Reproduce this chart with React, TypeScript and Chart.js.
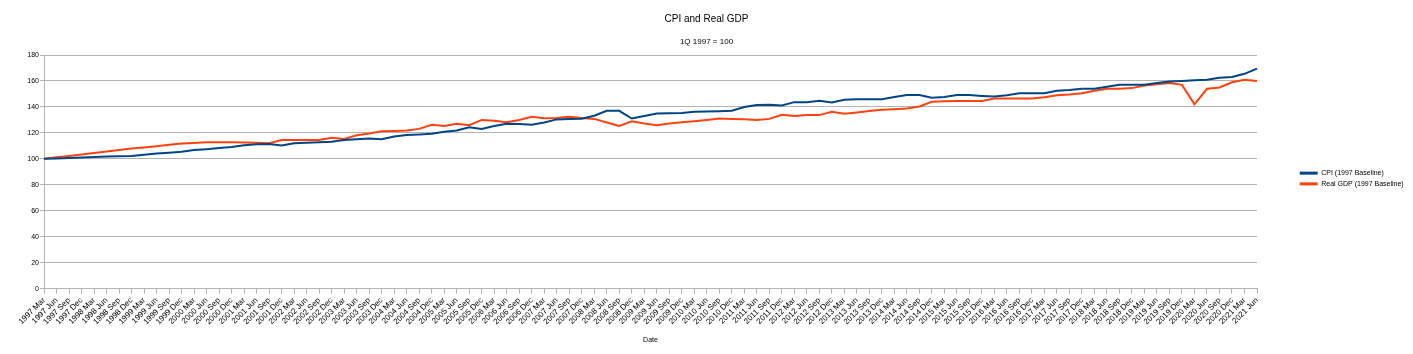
import React, { useEffect, useRef } from 'react';
import { Chart, registerables } from 'chart.js';

Chart.register(...registerables);

const quarterMonths = ['Mar', 'Jun', 'Sep', 'Dec'];
const years = [1997, 1998, 1999, 2000, 2001, 2002, 2003, 2004, 2005, 2006, 2007, 2008, 2009, 2010, 2011, 2012, 2013, 2014, 2015, 2016, 2017, 2018, 2019, 2020, 2021];
const dates: string[] = [];
years.forEach((y) => quarterMonths.forEach((m) => dates.push(`${y} ${m}`)));
const categories = dates.slice(0, 98);

const cpi = [
  100, 100.3, 100.6, 101.0, 101.5, 101.9, 102.1, 102.3, 103.2, 104.2,
  104.8, 105.4, 106.8, 107.5, 108.3, 109.2, 110.5, 111.3, 111.4, 110.3,
  112.1, 112.5, 112.8, 113.1, 114.6, 115.2, 115.7, 115.2, 117.2, 118.3,
  118.8, 119.4, 120.8, 121.9, 124.4, 123.1, 125.3, 127.0, 126.8, 126.2,
  128.0, 130.4, 130.7, 130.9, 133.2, 137.0, 137.0, 131.1, 133.0, 134.9,
  135.1, 135.4, 136.2, 136.4, 136.6, 137.0, 140.0, 141.4, 141.6, 141.1,
  143.7, 143.7, 144.7, 143.4, 145.5, 146.0, 146.0, 146.0, 147.6, 149.1,
  149.1, 147.1, 147.6, 149.1, 149.1, 148.5, 148.0, 149.0, 150.5, 150.5,
  150.5, 152.5, 153.0, 154.0, 154.0, 155.5, 157.0, 157.0, 157.0, 158.5,
  159.5, 160.0, 160.5, 161.0, 162.5, 163.0, 165.5, 169.5,
];

const realGdp = [
  100, 101.2, 102.2, 103.3, 104.5, 105.6, 106.8, 108.0, 108.8, 109.8,
  110.8, 111.8, 112.3, 112.8, 112.8, 112.8, 112.7, 112.5, 112.1, 114.6,
  114.6, 114.6, 114.6, 116.2, 115.4, 118.2, 119.5, 121.3, 121.5, 121.8,
  123.1, 126.2, 125.4, 127.0, 125.9, 130.0, 129.3, 128.2, 130.0, 132.5,
  131.3, 131.5, 132.5, 131.5, 130.8, 128.0, 125.4, 129.0, 127.2, 125.9,
  127.3, 128.2, 129.0, 130.0, 131.1, 130.8, 130.6, 130.0, 130.8, 133.9,
  133.1, 133.7, 133.7, 136.2, 134.7, 135.7, 136.8, 137.8, 138.3, 138.8,
  140.4, 144.0, 144.3, 144.5, 144.5, 144.5, 146.5, 146.5, 146.5, 146.5,
  147.5, 149.0, 149.5, 150.5, 152.5, 154.0, 154.0, 154.5, 156.5, 157.5,
  158.5, 157.0, 142.0, 154.0, 155.0, 159.0, 161.0, 160.0,
];

const yTicks = [0, 20, 40, 60, 80, 100, 120, 140, 160, 180];

const FONT = "'Liberation Sans', Arial, sans-serif";
const GRID = '#b3b3b3';

export default function App() {
  const canvasRef = useRef<HTMLCanvasElement | null>(null);

  useEffect(() => {
    document.body.style.margin = '0';
    const canvas = canvasRef.current;
    if (!canvas) return;
    const chart = new Chart(canvas, {
      type: 'line',
      data: {
        labels: categories,
        datasets: [
          {
            label: 'CPI (1997 Baseline)',
            data: cpi,
            borderColor: '#004586',
            backgroundColor: '#004586',
            borderWidth: 2,
            pointRadius: 0,
            tension: 0,
          },
          {
            label: 'Real GDP (1997 Baseline)',
            data: realGdp,
            borderColor: '#ff420e',
            backgroundColor: '#ff420e',
            borderWidth: 2,
            pointRadius: 0,
            tension: 0,
          },
        ],
      },
      options: {
        animation: false,
        responsive: false,
        maintainAspectRatio: false,
        layout: { padding: 0 },
        plugins: {
          title: {
            display: true,
            text: 'CPI and Real GDP',
            color: '#000',
            font: { family: FONT, size: 10, weight: 'normal' },
            padding: { top: 13, bottom: 0 },
          },
          subtitle: {
            display: true,
            text: '1Q 1997 = 100',
            color: '#000',
            font: { family: FONT, size: 8, weight: 'normal' },
            padding: { top: 12.2, bottom: 8.2 },
          },
          legend: {
            display: true,
            position: 'right',
            maxWidth: 117,
            title: { display: true, text: '', font: { family: FONT, size: 2 }, padding: 0.3 },
            labels: {
              color: '#000',
              font: { family: FONT, size: 7 },
              boxWidth: 18,
              boxHeight: 3,
              padding: 3.7,
              generateLabels: (c: any) =>
                Chart.defaults.plugins.legend.labels.generateLabels(c).map((l: any) => ({ ...l, lineWidth: 0 })),
            },
          },
          tooltip: { enabled: false },
        },
        scales: {
          x: {
            type: 'category',
            offset: false,
            title: {
              display: true,
              text: 'Date',
              color: '#000',
              font: { family: FONT, size: 7 },
              padding: { top: 0, bottom: 10 },
            },
            grid: { drawOnChartArea: false, drawTicks: true, tickLength: 5, color: GRID },
            border: { display: true, color: GRID, width: 1 },
            ticks: {
              autoSkip: false,
              minRotation: 45,
              maxRotation: 45,
              padding: 2,
              color: '#000',
              font: { family: FONT, size: 8 },
            },
            afterFit: (s: any) => {
              s.height = 65.3;
            },
          },
          y: {
            type: 'linear',
            min: 0,
            max: 180,
            afterBuildTicks: (s: any) => {
              s.ticks = yTicks.map((v) => ({ value: v }));
            },
            grid: { color: GRID, tickLength: 4, drawTicks: true },
            border: { display: true, color: GRID, width: 1 },
            ticks: {
              padding: 1,
              color: '#000',
              font: { family: FONT, size: 7 },
            },
            afterFit: (s: any) => {
              s.width = 44;
            },
          },
          gap: {
            type: 'linear',
            position: 'right',
            display: true,
            grid: { display: false, drawTicks: false },
            border: { display: false },
            ticks: { display: false },
            afterFit: (s: any) => {
              s.width = 39;
            },
          },
        },
      },
    });
    return () => chart.destroy();
  }, []);

  return (
    <div style={{ width: 1413, height: 354 }}>
      <canvas ref={canvasRef} width={1413} height={354} style={{ display: 'block' }} />
    </div>
  );
}
